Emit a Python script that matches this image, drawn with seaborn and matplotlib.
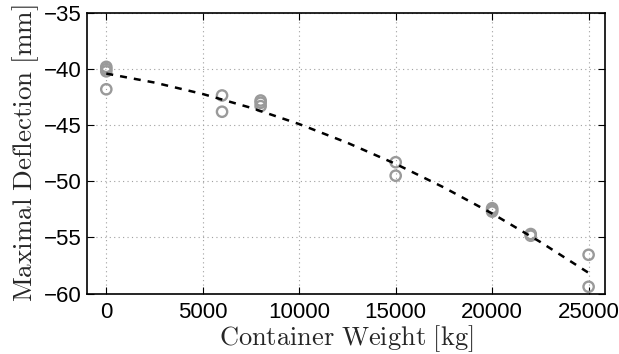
import numpy as np
import pandas as pd
import matplotlib
matplotlib.use("Agg")
import matplotlib.pyplot as plt
import seaborn as sns

# Measured data (container weight in kg, deflection in mm)
weight = [0, 0, 0, 0, 6000, 6000, 8000, 8000, 8000,
          15000, 15000, 20000, 20000, 20000, 22000, 22000, 25000, 25000]
deflection = [-39.8, -40.0, -40.2, -41.8, -42.35, -43.8, -42.8, -43.0, -43.3,
              -48.3, -49.5, -52.4, -52.55, -52.7, -54.7, -54.85, -56.55, -59.4]

# Fitted trend curve
fit_x = [0, 2500, 5000, 7500, 10000, 12500, 15000, 17500, 20000, 22500, 25000]
fit_y = [-40.40, -41.20, -42.22, -43.45, -44.90, -46.57, -48.45, -50.55, -52.87, -55.41, -58.16]

xticks = [0, 5000, 10000, 15000, 20000, 25000]
yticks = [-35, -40, -45, -50, -55, -60]

sns.set_style("white")
plt.rcParams['font.family'] = ['Liberation Sans', 'DejaVu Sans']
plt.rcParams['mathtext.fontset'] = 'cm'

df = pd.DataFrame({"w": weight, "d": deflection})
fit = pd.DataFrame({"x": fit_x, "y": fit_y})

fig = plt.figure(figsize=(6.19, 3.54), dpi=100)
ax = fig.add_axes([87/619, 1-293.5/354, (605-87)/619, (293.5-13)/354])

sns.scatterplot(data=df, x="w", y="d", ax=ax, marker="o", s=55,
                facecolors="none", edgecolor="#9a9a9a", linewidth=1.7, zorder=3)
sns.lineplot(data=fit, x="x", y="y", ax=ax, color="black", linewidth=1.8,
             dashes=False, zorder=4)
ax.lines[-1].set_dashes([2.8, 2.8])

ax.set_xlim(-1000, 25850)
ax.set_ylim(-60, -35)
ax.set_xticks(xticks)
ax.set_yticks(yticks)
ax.set_xticklabels([str(t) for t in xticks], fontsize=16)
ax.set_yticklabels([str(t).replace('-', '\u2212') for t in yticks], fontsize=16)

ax.grid(True, color="#a0a0a0", linestyle=(0, (1, 3)), linewidth=0.8)
ax.set_axisbelow(True)
for s in ax.spines.values():
    s.set_color("black")
    s.set_linewidth(1.2)
ax.tick_params(direction="in", length=5, width=0.8, top=True, right=True,
               bottom=True, left=True, colors="black")
ax.tick_params(axis="x", pad=6)
ax.tick_params(axis="y", pad=4)

ax.set_xlabel(r"$\mathrm{Container\ Weight\ [kg]}$", fontsize=19, labelpad=0)
ax.set_ylabel(r"$\mathrm{Maximal\ Deflection\ [mm]}$", fontsize=19.5, labelpad=2)

fig.savefig("out.png", dpi=100)
